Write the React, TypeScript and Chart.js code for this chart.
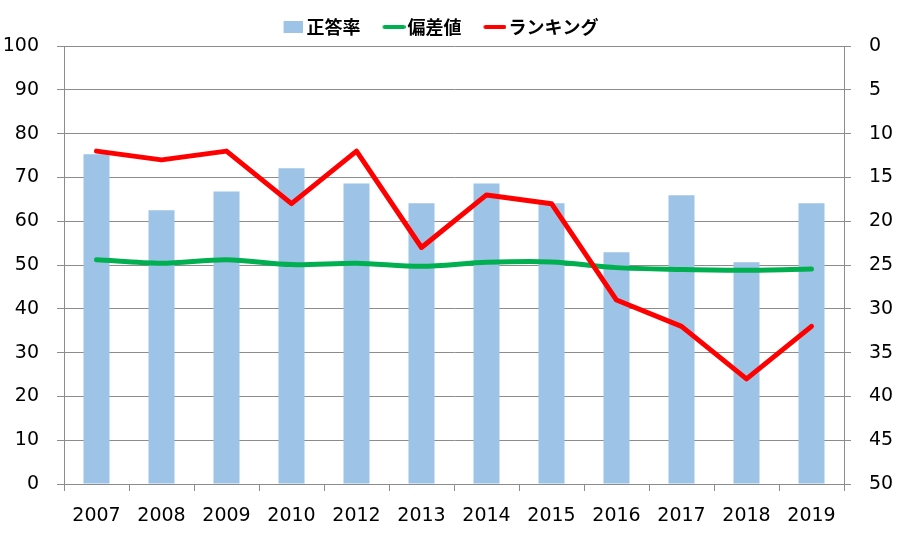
import React, { useEffect, useRef } from "react";
import { Chart, registerables } from "chart.js";

Chart.register(...registerables);

const years = ["2007", "2008", "2009", "2010", "2012", "2013", "2014", "2015", "2016", "2017", "2018", "2019"];
const correctRate = [75.3, 62.5, 66.8, 72.1, 68.6, 64.1, 68.6, 64.1, 52.9, 65.9, 50.6, 64.1];
const deviation = [51.2, 50.4, 51.2, 50.1, 50.4, 49.7, 50.6, 50.7, 49.4, 49.0, 48.8, 49.1];
const ranking = [12, 13, 12, 18, 12, 23, 17, 18, 29, 32, 38, 32];
const seriesNames = ["正答率", "偏差値", "ランキング"];

const BAR_COLOR = "#9DC3E6";
const GREEN = "#00B050";
const RED = "#FF0000";
const GRID = "#8C8C8C";
const TICK_FONT = { family: "'DejaVu Sans', Verdana, sans-serif", size: 19 };
const BOX_W = 28;

function makeRectIcon(color: string) {
  const c = document.createElement("canvas");
  c.width = BOX_W + 10;
  c.height = 12;
  const ctx = c.getContext("2d")!;
  ctx.fillStyle = color;
  ctx.fillRect(c.width - 19, 0, 19, 12);
  return c;
}

function makeLineIcon(color: string) {
  const c = document.createElement("canvas");
  c.width = BOX_W + 14;
  c.height = 12;
  const ctx = c.getContext("2d")!;
  ctx.strokeStyle = color;
  ctx.lineWidth = 4;
  ctx.lineCap = "round";
  ctx.beginPath();
  ctx.moveTo(c.width - 21, 6);
  ctx.lineTo(c.width - 2, 6);
  ctx.stroke();
  return c;
}

export default function App() {
  const ref = useRef<HTMLCanvasElement | null>(null);

  useEffect(() => {
    if (!ref.current) return;
    const icons = [makeRectIcon(BAR_COLOR), makeLineIcon(GREEN), makeLineIcon(RED)];
    const chart = new Chart(ref.current, {
      type: "bar",
      data: {
        labels: years,
        datasets: [
          {
            type: "bar",
            label: seriesNames[0],
            data: correctRate,
            backgroundColor: BAR_COLOR,
            barPercentage: 0.4,
            categoryPercentage: 1,
            yAxisID: "y",
            order: 3,
          },
          {
            type: "line",
            label: seriesNames[1],
            data: deviation,
            borderColor: GREEN,
            backgroundColor: GREEN,
            borderWidth: 5,
            pointRadius: 0,
            tension: 0.3,
            borderCapStyle: "round",
            borderJoinStyle: "round",
            yAxisID: "y",
            order: 2,
          },
          {
            type: "line",
            label: seriesNames[2],
            data: ranking,
            borderColor: RED,
            backgroundColor: RED,
            borderWidth: 5,
            pointRadius: 0,
            tension: 0,
            borderCapStyle: "round",
            borderJoinStyle: "round",
            yAxisID: "y1",
            order: 1,
          },
        ],
      },
      options: {
        responsive: false,
        animation: false,
        layout: { padding: { left: 3, right: 40, top: 8, bottom: 0 } },
        plugins: {
          tooltip: { enabled: false },
          legend: {
            position: "top",
            labels: {
              usePointStyle: true,
              pointStyleWidth: BOX_W,
              padding: 10,
              color: "#000",
              font: { family: "'Noto Sans CJK JP', sans-serif", size: 18, weight: "bold" },
              generateLabels: () =>
                seriesNames.map((name, i) => ({
                  text: name,
                  pointStyle: icons[i],
                  fillStyle: "transparent",
                  strokeStyle: "transparent",
                  lineWidth: 0,
                  hidden: false,
                  datasetIndex: i,
                  fontColor: "#000",
                })),
            },
          },
        },
        scales: {
          x: {
            type: "category",
            offset: true,
            afterFit: (s: any) => {
              s.height = 62;
            },
            grid: {
              display: true,
              drawOnChartArea: false,
              drawTicks: true,
              tickLength: 7,
              color: GRID,
              offset: true,
            },
            border: { display: true, color: GRID },
            ticks: { color: "#000", font: TICK_FONT, padding: 14, maxRotation: 0, autoSkip: false },
          },
          y: {
            position: "left",
            min: 0,
            max: 100,
            afterFit: (s: any) => {
              s.width = 61;
            },
            grid: { color: GRID, tickLength: 7, drawTicks: true },
            border: { display: true, color: GRID },
            ticks: { stepSize: 10, color: "#000", font: TICK_FONT, padding: 18 },
          },
          y1: {
            position: "right",
            reverse: true,
            min: 0,
            max: 50,
            afterFit: (s: any) => {
              s.width = 21;
              // labels extend past the narrowed scale box; don't clip them
              s._computeLabelArea = () => undefined;
            },
            grid: { drawOnChartArea: false, color: GRID, tickLength: 7, drawTicks: true },
            border: { display: true, color: GRID },
            ticks: { stepSize: 5, color: "#000", font: TICK_FONT, padding: 18 },
          },
        },
      },
    });
    return () => chart.destroy();
  }, []);

  return (
    <div style={{ position: "absolute", left: 0, top: 0, width: 905, height: 546, background: "#fff" }}>
      <canvas ref={ref} width={905} height={546} style={{ display: "block" }} />
    </div>
  );
}
